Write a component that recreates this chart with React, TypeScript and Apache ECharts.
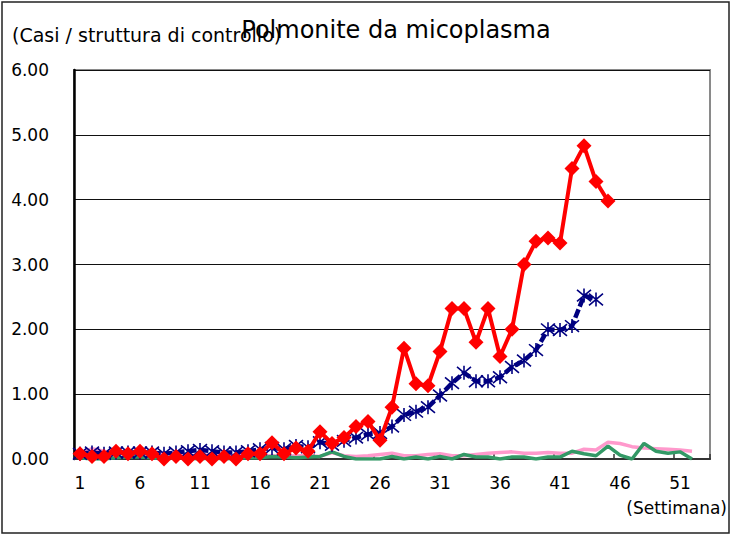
import React, { useEffect, useRef } from "react";
import * as echarts from "echarts";

const weeks: string[] = Array.from({ length: 53 }, (_, i) => String(i + 1));

const currentYear: number[] = [
  0.08, 0.04, 0.04, 0.12, 0.08, 0.12, 0.08, 0.0, 0.04, 0.0,
  0.04, 0.0, 0.04, 0.0, 0.08, 0.08, 0.25, 0.08, 0.17, 0.12,
  0.42, 0.24, 0.33, 0.5, 0.58, 0.29, 0.8, 1.71, 1.16, 1.13,
  1.66, 2.32, 2.32, 1.8, 2.32, 1.58, 2.0, 3.0, 3.36, 3.41,
  3.33, 4.48, 4.83, 4.28, 3.98,
];

const lastYear: number[] = [
  0.08, 0.1, 0.08, 0.1, 0.1, 0.1, 0.1, 0.08, 0.1, 0.12,
  0.14, 0.12, 0.1, 0.1, 0.12, 0.15, 0.17, 0.15, 0.2, 0.18,
  0.26, 0.22, 0.28, 0.33, 0.38, 0.4, 0.5, 0.68, 0.73, 0.8,
  0.98, 1.17, 1.33, 1.2, 1.2, 1.26, 1.42, 1.52, 1.68, 2.0,
  1.99, 2.05, 2.52, 2.46,
];

const pinkYear: number[] = [
  0.08, 0.16, 0.12, 0.08, 0.1, 0.08, 0.06, 0.1, 0.08, 0.06,
  0.05, 0.07, 0.05, 0.05, 0.04, 0.05, 0.05, 0.04, 0.05, 0.05,
  0.04, 0.1, 0.05, 0.04, 0.05, 0.07, 0.09, 0.05, 0.05, 0.07,
  0.08, 0.05, 0.05, 0.07, 0.09, 0.1, 0.11, 0.09, 0.09, 0.1,
  0.09, 0.09, 0.15, 0.14, 0.26, 0.24, 0.19, 0.17, 0.16, 0.15,
  0.14, 0.12,
];

const greenYear: number[] = [
  0.02, 0.0, 0.0, 0.02, 0.03, 0.03, 0.02, 0.0, 0.02, 0.01,
  0.0, 0.02, 0.0, 0.01, 0.02, 0.02, 0.04, 0.03, 0.02, 0.03,
  0.04, 0.11, 0.04, 0.0, 0.0, 0.0, 0.04, 0.0, 0.03, 0.0,
  0.04, 0.0, 0.07, 0.03, 0.03, 0.0, 0.03, 0.03, 0.0, 0.03,
  0.03, 0.12, 0.08, 0.05, 0.2, 0.06, 0.0, 0.24, 0.12, 0.09,
  0.11, 0.0,
];

const FONT = "DejaVu Sans";
const ASTERISK = "path://M1,1 L11,11 M1,11 L11,1 M6,0 L6,12";

export default function App() {
  const ref = useRef<HTMLDivElement>(null);
  useEffect(() => {
    if (!ref.current) return;
    const chart = echarts.init(ref.current, undefined, { renderer: "svg" });
    chart.setOption({
      animation: false,
      backgroundColor: "#ffffff",
      grid: {
        left: 74,
        right: 21,
        top: 70,
        bottom: 76,
        show: true,
        borderColor: "#8a8a8a",
        borderWidth: 2,
        backgroundColor: "#ffffff",
      },
      graphic: [
        {
          type: "rect",
          shape: { x: 2, y: 2, width: 727, height: 531 },
          style: { fill: "none", stroke: "#222", lineWidth: 1.5 },
          silent: true,
        },
        {
          type: "text",
          x: 12,
          y: 35,
          style: {
            text: "(Casi / struttura di controllo)",
            font: `19px "${FONT}"`,
            fill: "#000",
            textAlign: "left",
            textVerticalAlign: "middle",
          },
        },
        {
          type: "text",
          x: 396,
          y: 30,
          style: {
            text: "Polmonite da micoplasma",
            font: `24px "${FONT}"`,
            fill: "#000",
            textAlign: "center",
            textVerticalAlign: "middle",
          },
        },
        {
          type: "text",
          x: 727,
          y: 508,
          style: {
            text: "(Settimana)",
            font: `17px "${FONT}"`,
            fill: "#000",
            textAlign: "right",
            textVerticalAlign: "middle",
          },
        },
      ],
      xAxis: {
        type: "category",
        data: weeks,
        boundaryGap: true,
        axisLine: { show: true, lineStyle: { color: "#333", width: 2 } },
        axisTick: {
          show: true,
          inside: true,
          length: 5,
          interval: 4,
          lineStyle: { color: "#333", width: 1.5 },
        },
        axisLabel: {
          interval: 4,
          margin: 15,
          color: "#000",
          fontFamily: FONT,
          fontSize: 17,
        },
        splitLine: { show: false },
      },
      yAxis: {
        type: "value",
        min: 0,
        max: 6,
        interval: 1,
        axisLine: { show: true, lineStyle: { color: "#000", width: 2.5 } },
        axisTick: { show: false },
        axisLabel: {
          margin: 25,
          color: "#000",
          fontFamily: FONT,
          fontSize: 17,
          formatter: (v: number) => v.toFixed(2),
        },
        splitLine: { show: true, lineStyle: { color: "#111", width: 1.2 } },
      },
      series: [
        {
          name: "pink",
          type: "line",
          data: pinkYear,
          symbol: "none",
          z: 1,
          lineStyle: { color: "#FF99CC", width: 3.5 },
        },
        {
          name: "green",
          type: "line",
          data: greenYear,
          symbol: "none",
          z: 2,
          lineStyle: { color: "#339966", width: 3.5 },
        },
        {
          name: "lastYear",
          type: "line",
          data: lastYear,
          symbol: ASTERISK,
          symbolSize: 14,
          showAllSymbol: true,
          z: 3,
          itemStyle: { color: "none", borderColor: "#000080", borderWidth: 1.6 },
          lineStyle: { color: "#000080", width: 4.5, type: [9, 3] },
        },
        {
          name: "currentYear",
          type: "line",
          data: currentYear,
          symbol: "diamond",
          symbolSize: 15,
          showAllSymbol: true,
          z: 4,
          itemStyle: { color: "#FF0000", borderWidth: 0 },
          lineStyle: { color: "#FF0000", width: 4 },
        },
      ],
    });
    return () => chart.dispose();
  }, []);
  return (
    <div
      ref={ref}
      style={{ position: "fixed", left: 0, top: 0, width: 731, height: 535 }}
    />
  );
}
